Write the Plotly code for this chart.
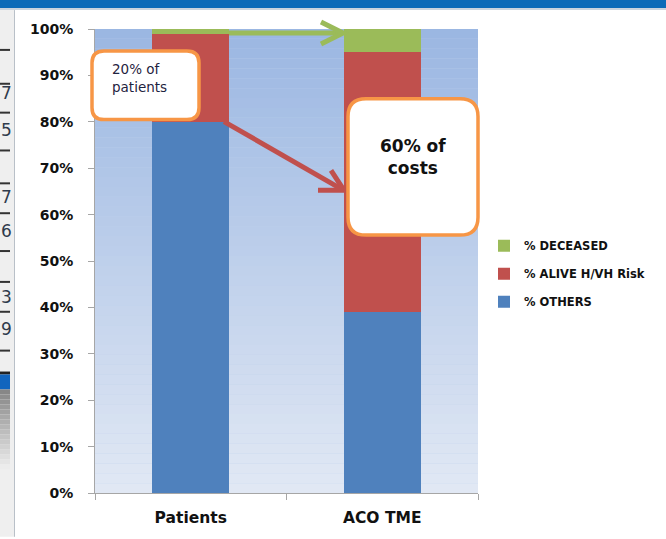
import plotly.graph_objects as go

categories = ["Patients", "ACO TME"]
others = [80, 39]
alive_risk = [19, 56]
deceased = [1, 5]
y_ticks = list(range(0, 101, 10))
y_tick_labels = [f"{v}%" for v in y_ticks]

W, H = 666, 539
ML, MR, MT, MB = 95, 188, 29, 44
PW = W - ML - MR
PH = H - MT - MB


def X(px):
    return (px - ML) / PW


def Y(py):
    return (H - MB - py) / PH


fig = go.Figure()
fig.add_trace(go.Bar(x=categories, y=others, name="% OTHERS", legendrank=3,
                     marker=dict(color="#4F81BD", line=dict(width=0)), legendgroup="a"))
fig.add_trace(go.Bar(x=categories, y=alive_risk, name="% ALIVE H/VH Risk", legendrank=2,
                     marker=dict(color="#C0504D", line=dict(width=0)), legendgroup="b"))
fig.add_trace(go.Bar(x=categories, y=deceased, name="% DECEASED", legendrank=1,
                     marker=dict(color="#9BBB59", line=dict(width=0)), legendgroup="c"))

shapes = []
# plot-area gradient background
top_c = (155, 183, 226)
bot_c = (225, 232, 244)
N = 47
for i in range(N):
    t = i / (N - 1)
    c = tuple(round(top_c[k] + (bot_c[k] - top_c[k]) * t) for k in range(3))
    shapes.append(dict(type="rect", xref="paper", yref="paper", layer="below",
                       x0=0, x1=1, y0=1 - (i + 1) / N, y1=1 - i / N,
                       fillcolor="rgb(%d,%d,%d)" % c, line=dict(width=0)))

# window decoration
shapes.append(dict(type="rect", xref="paper", yref="paper", x0=X(0), x1=X(W), y0=Y(0), y1=Y(8),
                   fillcolor="#0B6AB8", line=dict(width=0)))
shapes.append(dict(type="rect", xref="paper", yref="paper", x0=X(0), x1=X(W), y0=Y(8), y1=Y(10),
                   fillcolor="#C9D3DE", line=dict(width=0)))
shapes.append(dict(type="rect", xref="paper", yref="paper", x0=X(0), x1=X(14), y0=Y(10), y1=Y(H),
                   fillcolor="#EFEFEF", line=dict(width=0)))
shapes.append(dict(type="line", xref="paper", yref="paper", x0=X(14.5), x1=X(14.5), y0=Y(10), y1=Y(H),
                   line=dict(color="#B9C0C8", width=1)))
for ly in [50, 84, 113, 151, 184, 214, 252, 283, 313, 352]:
    shapes.append(dict(type="line", xref="paper", yref="paper", x0=X(0), x1=X(10), y0=Y(ly), y1=Y(ly),
                       line=dict(color="#333333", width=2)))
shapes.append(dict(type="rect", xref="paper", yref="paper", x0=X(0), x1=X(10), y0=Y(373), y1=Y(376),
                   fillcolor="#222222", line=dict(width=0)))
shapes.append(dict(type="rect", xref="paper", yref="paper", x0=X(0), x1=X(10), y0=Y(376), y1=Y(391),
                   fillcolor="#1265BE", line=dict(width=0)))
g0, g1 = (135, 135, 135), (236, 236, 236)
for i in range(16):
    t = i / 15
    c = tuple(round(g0[k] + (g1[k] - g0[k]) * t) for k in range(3))
    shapes.append(dict(type="rect", xref="paper", yref="paper", x0=X(0), x1=X(10),
                       y0=Y(391 + i * 5), y1=Y(391 + (i + 1) * 5),
                       fillcolor="rgb(%d,%d,%d)" % c, line=dict(width=0)))


def rrect(x0, y0, x1, y1, r):
    return (f"M {X(x0 + r)},{Y(y0)} L {X(x1 - r)},{Y(y0)} Q {X(x1)},{Y(y0)} {X(x1)},{Y(y0 + r)} "
            f"L {X(x1)},{Y(y1 - r)} Q {X(x1)},{Y(y1)} {X(x1 - r)},{Y(y1)} "
            f"L {X(x0 + r)},{Y(y1)} Q {X(x0)},{Y(y1)} {X(x0)},{Y(y1 - r)} "
            f"L {X(x0)},{Y(y0 + r)} Q {X(x0)},{Y(y0)} {X(x0 + r)},{Y(y0)} Z")


def poly(pts):
    return "M " + " L ".join(f"{X(a)},{Y(b)}" for a, b in pts)


# arrows
green = "#9BBB59"
red = "#C0504D"
shapes.append(dict(type="line", xref="paper", yref="paper", x0=X(229), y0=Y(33), x1=X(341), y1=Y(33),
                   line=dict(color=green, width=5)))
shapes.append(dict(type="path", xref="paper", yref="paper", path=poly([(321, 22), (343, 33), (321, 44)]),
                   line=dict(color=green, width=5)))
shapes.append(dict(type="line", xref="paper", yref="paper", x0=X(224), y0=Y(122), x1=X(342), y1=Y(190),
                   line=dict(color=red, width=5)))
shapes.append(dict(type="path", xref="paper", yref="paper", path=poly([(318, 191), (344, 191), (331, 171)]),
                   line=dict(color=red, width=5)))
# callout boxes
orange = "#F79646"
shapes.append(dict(type="path", xref="paper", yref="paper", path=rrect(92, 51, 199, 120, 12),
                   fillcolor="white", line=dict(color=orange, width=3.5)))
shapes.append(dict(type="path", xref="paper", yref="paper", path=rrect(348, 99, 478, 236, 18),
                   fillcolor="white", line=dict(color=orange, width=3.5)))

annotations = [
    dict(xref="paper", yref="paper", x=X(110), y=Y(78), xanchor="left", yanchor="middle",
         text="20% of<br>patients", align="left", showarrow=False,
         font=dict(family="DejaVu Sans", size=13.5, color="#1F2340")),
    dict(xref="paper", yref="paper", x=X(413), y=Y(158), xanchor="center", yanchor="middle",
         text="60% of<br>costs", align="center", showarrow=False,
         font=dict(family="DejaVu Sans", size=17, color="#111111", weight="bold")),
]
for d, dy in [("7", 93), ("5", 130), ("7", 198), ("6", 232), ("3", 298), ("9", 330)]:
    annotations.append(dict(xref="paper", yref="paper", x=X(0), y=Y(dy), xanchor="left", yanchor="middle",
                            text=d, showarrow=False, borderpad=0,
                            font=dict(family="DejaVu Sans", size=17, color="#2F3B4C")))

fig.update_layout(
    width=W, height=H,
    margin=dict(l=ML, r=MR, t=MT, b=MB, pad=0),
    paper_bgcolor="white",
    plot_bgcolor="rgb(190,208,235)",
    barmode="stack",
    bargap=0.6,
    showlegend=True,
    legend=dict(x=X(484), y=Y(232), xanchor="left", yanchor="top",
                traceorder="grouped", tracegroupgap=9,
                font=dict(family="DejaVu Sans", size=11.5, color="#111111", weight="bold"),
                bgcolor="rgba(0,0,0,0)"),
    xaxis=dict(showline=True, linecolor="#A6A6A6", linewidth=1, ticks="outside", tickson="boundaries",
               ticklen=6, tickcolor="#A6A6A6", showgrid=False, ticklabelstandoff=10,
               tickfont=dict(family="DejaVu Sans", size=15.5, color="#111111", weight="bold")),
    yaxis=dict(range=[0, 100], tickmode="array", tickvals=y_ticks, ticktext=y_tick_labels,
               showline=True, linecolor="#A6A6A6",
               ticks="outside", ticklen=6, tickcolor="#A6A6A6", showgrid=False, zeroline=False,
               ticklabelstandoff=12,
               tickfont=dict(family="DejaVu Sans", size=14, color="#111111", weight="bold")),
    shapes=shapes,
    annotations=annotations,
)

fig.write_html("out.html", config={"displayModeBar": False})
